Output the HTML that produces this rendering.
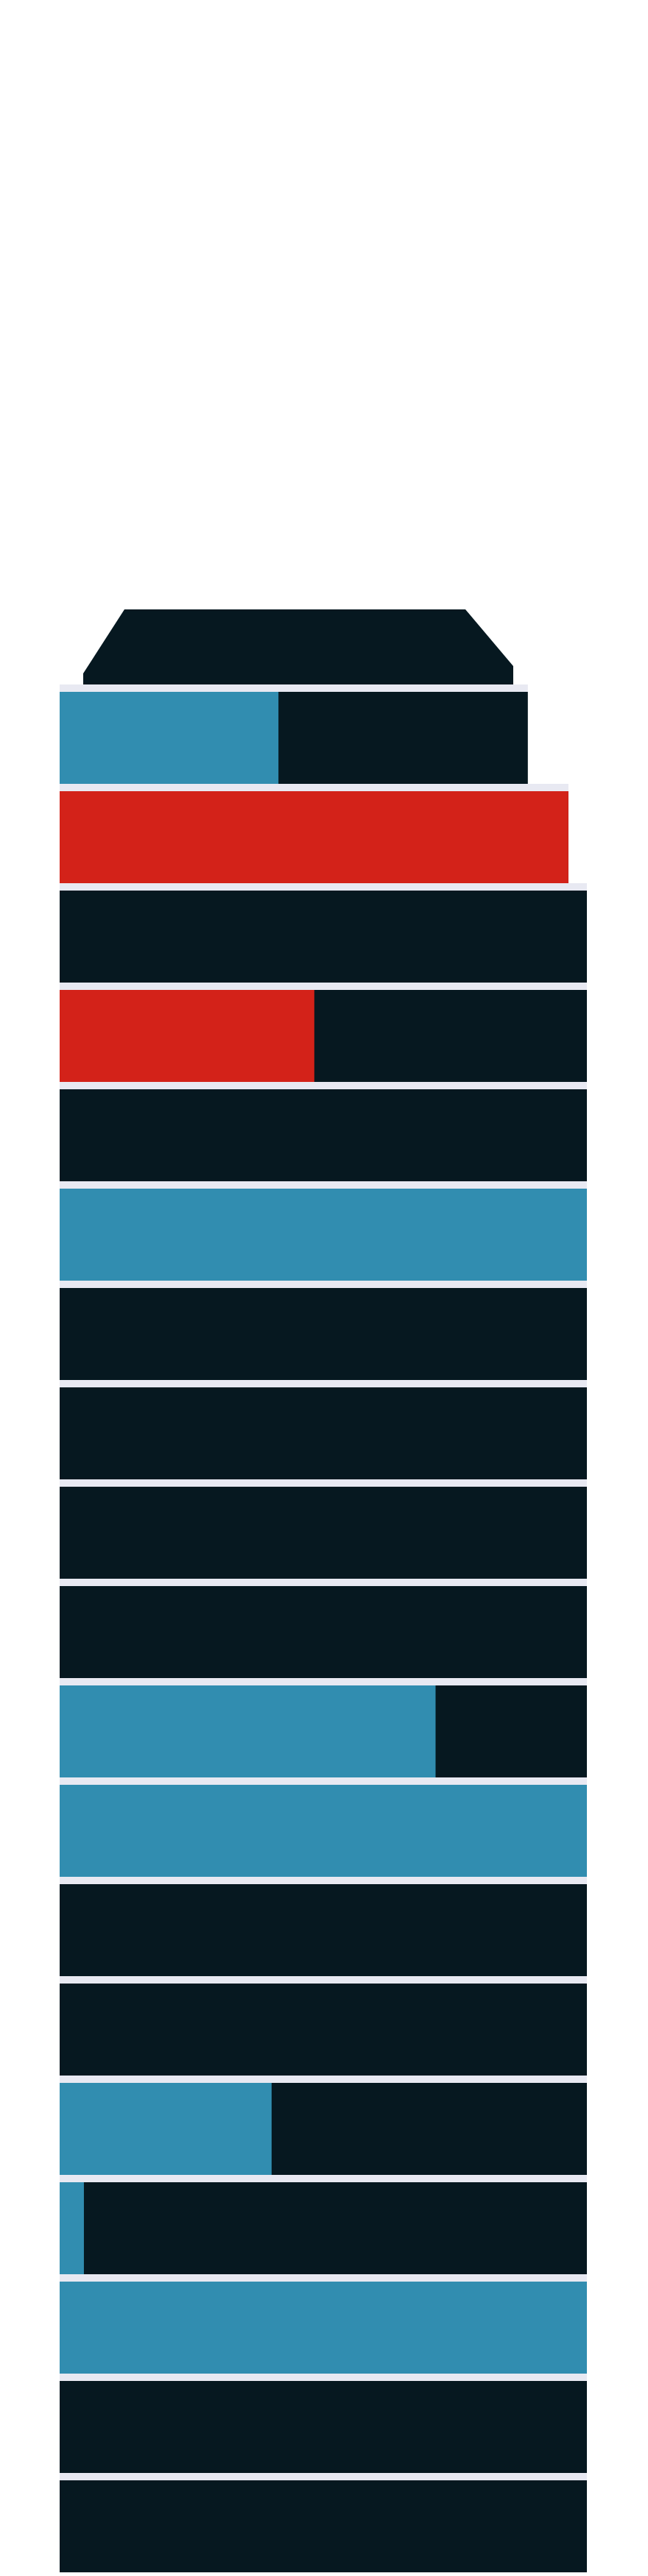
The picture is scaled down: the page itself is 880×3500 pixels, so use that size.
<!DOCTYPE html>
<html><head><meta charset="utf-8"><style>
html,body{margin:0;padding:0;background:#fff}
svg{display:block}
</style></head><body>
<svg id="chart" width="880" height="3500" viewBox="0 0 880 3500" xmlns="http://www.w3.org/2000/svg">
<polygon points="169,828 632,828 697,905 697,930 113,930 113,915" fill="#061820"/>
<g id="rows"></g>
</svg>
<script>
// row totals (% of full width) and highlighted portions
const rowTotals = [88.8, 96.5, 100, 100, 100, 100, 100, 100, 100, 100, 100, 100, 100, 100, 100, 100, 100, 100, 100];
const blueValues = [41.5, 0, 0, 0, 0, 100, 0, 0, 0, 0, 71.3, 100, 0, 0, 40.2, 4.6, 100, 0, 0];
const redValues = [0, 96.5, 0, 48.3, 0, 0, 0, 0, 0, 0, 0, 0, 0, 0, 0, 0, 0, 0, 0];

const X0 = 81, X1 = 797, Y0 = 940, STEP = 135, BAR_H = 125;
function x(v){ return X0 + v * (X1 - X0) / 100; }
function y(i){ return Y0 + i * STEP; }
const NS = 'http://www.w3.org/2000/svg';
const g = document.getElementById('rows');
function rect(x0, y0, w, h, fill){
  const r = document.createElementNS(NS, 'rect');
  r.setAttribute('x', x0); r.setAttribute('y', y0);
  r.setAttribute('width', Math.max(0, w)); r.setAttribute('height', h);
  r.setAttribute('fill', fill);
  g.appendChild(r);
  return r;
}
for (let i = 0; i < rowTotals.length; i++) {
  const sep = rect(X0, y(i) - 10, x(rowTotals[i]) - X0, 10, '#e8e9f2');
  
  
  const bar = rect(X0, y(i), x(rowTotals[i]) - X0, BAR_H, '#061820');
  
  
  if (blueValues[i] > 0) {
    const b = rect(X0, y(i), x(blueValues[i]) - X0, BAR_H, '#318db0');
    
    
  }
  if (redValues[i] > 0) {
    const r = rect(X0, y(i), x(redValues[i]) - X0, BAR_H, '#d32219');
    
    
  }
}
</script>
</body></html>
